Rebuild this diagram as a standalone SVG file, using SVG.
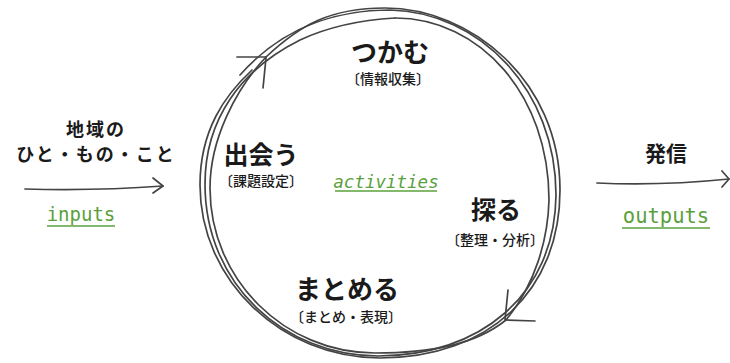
<svg xmlns="http://www.w3.org/2000/svg" width="730" height="363" viewBox="0 0 730 363">
<style>
.ln{fill:none;stroke:#444;stroke-width:1.7;stroke-linecap:round;stroke-linejoin:round}
.jp{font-family:"Noto Sans CJK JP","Noto Sans",sans-serif;fill:#1a1a1a;text-anchor:middle}
.h{font-weight:700}
.s{font-weight:500}
.g{font-family:"DejaVu Sans Mono","Liberation Mono",monospace;fill:#5aa03c;text-anchor:middle}
.u{stroke:#5aa03c;stroke-width:1.6}
</style>
<rect width="730" height="363" fill="#fff"/>
<g id="connectors">
<path class="ln" d="M25,189 Q95,191 163,186"/>
<path class="ln" d="M153,178 L163,186 L153,193"/>
<path class="ln" d="M597,183 Q660,186 729,179"/>
<path class="ln" d="M722,171 L729,179 L722,187"/>
</g>
<g id="cycle">
<path class="ln" d="M266,57 C300,25 330,8 385,8 C470,8 560,80 560,190 C560,290 490,358 380,358 C281,358 200,280 200,185 C200,130 225,95 252,70"/>
<path class="ln" d="M240,75 C280,30 330,10 390,10 C480,12 556,90 556,195 C555,295 480,356 378,356 C285,356 205,285 205,184 C205,120 240,70 300,40 C330,26 360,20 395,18"/>
<path class="ln" d="M395,18 C480,18 549,95 549,200 C548,240 535,285 506,320 C475,345 430,353 375,353 C285,353 210,280 210,188 C210,140 235,90 266,57"/>
<path class="ln" d="M237,57 L266,57 M263,88 L266,58"/>
<path class="ln" d="M508,290 L505,320 L535,321"/>
</g>
<g id="node-inputs">
<text class="jp h" x="96" y="136" font-size="18" letter-spacing="2">地域の</text>
<text class="jp h" x="96" y="161" font-size="18" letter-spacing="2">ひと・もの・こと</text>
<text class="g" x="81" y="221" font-size="19">inputs</text>
<line class="u" x1="47" y1="226" x2="115" y2="226"/>
</g>
<g id="node-tsukamu">
<text class="jp h" x="390" y="62" font-size="26">つかむ</text>
<text class="jp s" x="388" y="84" font-size="14">〔情報収集〕</text>
</g>
<g id="node-deau">
<text class="jp h" x="261" y="164" font-size="25">出会う</text>
<text class="jp s" x="261" y="186" font-size="14">〔課題設定〕</text>
</g>
<g id="node-activities">
<text class="g" x="386" y="188" font-size="17.5" font-style="italic">activities</text>
<line class="u" x1="335" y1="191" x2="437" y2="191"/>
</g>
<g id="node-saguru">
<text class="jp h" x="496" y="219" font-size="25">探る</text>
<text class="jp s" x="495" y="245" font-size="14">〔整理・分析〕</text>
</g>
<g id="node-matomeru">
<text class="jp h" x="347" y="299" font-size="26">まとめる</text>
<text class="jp s" x="346" y="322" font-size="14">〔まとめ・表現〕</text>
</g>
<g id="node-outputs">
<text class="jp h" x="666" y="161" font-size="21">発信</text>
<text class="g" x="666" y="223" font-size="20.5">outputs</text>
<line class="u" x1="622" y1="228" x2="710" y2="228"/>
</g>
</svg>
